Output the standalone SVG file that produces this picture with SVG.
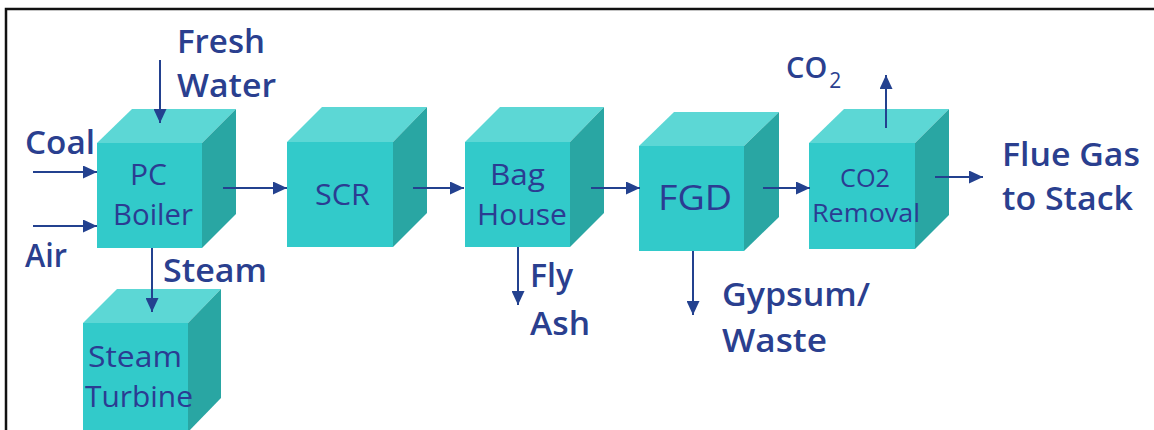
<svg xmlns="http://www.w3.org/2000/svg" width="1154" height="430" viewBox="0 0 1154 430">
<style>
.front{fill:#32CACA}
.top{fill:#5CD7D5}
.side{fill:#29A6A3}
.lbl{font-family:"Open Sans","Noto Sans",sans-serif;fill:#2A3F8F;font-weight:600;font-size:32px}
.in{font-family:"Open Sans","Noto Sans",sans-serif;fill:#2B3C92;font-weight:400;font-size:29px}
.conn{stroke:#23418F;stroke-width:2;fill:none;marker-end:url(#ah)}
</style>
<defs>
<marker id="ah" markerUnits="userSpaceOnUse" markerWidth="15" markerHeight="13" refX="14" refY="6.5" orient="auto">
<path d="M0,0 L14,6.5 L0,13 z" fill="#23418F"/>
</marker>
</defs>
<rect width="1154" height="430" fill="#fff"/>
<path d="M6,432 V9 H1156" fill="none" stroke="#111" stroke-width="2.5"/>

<g id="boiler">
<path class="top" d="M97,143 L132,109 L236,109 L202,143 z"/>
<path class="side" d="M202,143 L236,109 L236,214 L202,248 z"/>
<rect class="front" x="97" y="143" width="105" height="105"/>
<text class="in" x="130" y="185" textLength="37" lengthAdjust="spacingAndGlyphs">PC</text>
<text class="in" x="113" y="225" textLength="80" lengthAdjust="spacingAndGlyphs">Boiler</text>
</g>

<g id="scr">
<path class="top" d="M287,142 L322,107 L427,107 L393,142 z"/>
<path class="side" d="M393,142 L427,107 L427,213 L393,247 z"/>
<rect class="front" x="287" y="142" width="106" height="105"/>
<text class="in" x="315" y="205" textLength="55" lengthAdjust="spacingAndGlyphs">SCR</text>
</g>

<g id="baghouse">
<path class="top" d="M465,142 L500,107 L604,107 L570,142 z"/>
<path class="side" d="M570,142 L604,107 L604,213 L570,247 z"/>
<rect class="front" x="465" y="142" width="105" height="105"/>
<text class="in" x="490" y="185" textLength="55" lengthAdjust="spacingAndGlyphs">Bag</text>
<text class="in" x="477" y="225" textLength="90" lengthAdjust="spacingAndGlyphs">House</text>
</g>

<g id="fgd">
<path class="top" d="M639,146 L674,112 L779,112 L744,146 z"/>
<path class="side" d="M744,146 L779,112 L779,217 L744,251 z"/>
<rect class="front" x="639" y="146" width="105" height="105"/>
<text class="in" x="658" y="210" textLength="74" lengthAdjust="spacingAndGlyphs" style="font-size:35px;font-weight:500">FGD</text>
</g>

<g id="co2removal">
<path class="top" d="M809,143 L844,109 L949,109 L915,143 z"/>
<path class="side" d="M915,143 L949,109 L949,215 L915,249 z"/>
<rect class="front" x="809" y="143" width="106" height="106"/>
<text class="in" x="840" y="187" textLength="50" lengthAdjust="spacingAndGlyphs" style="font-size:26px">CO2</text>
<text class="in" x="812" y="222" textLength="108" lengthAdjust="spacingAndGlyphs" style="font-size:26px">Removal</text>
</g>

<g id="turbine">
<path class="top" d="M83,323 L117,289 L221,289 L188,323 z"/>
<path class="side" d="M188,323 L221,289 L221,398 L188,432 z"/>
<rect class="front" x="83" y="323" width="105" height="109"/>
<text class="in" x="88" y="367" textLength="94" lengthAdjust="spacingAndGlyphs">Steam</text>
<text class="in" x="85" y="407" textLength="108" lengthAdjust="spacingAndGlyphs">Turbine</text>
</g>

<g id="connectors">
<line class="conn" x1="33" y1="172" x2="97" y2="172"/>
<line class="conn" x1="33" y1="226" x2="97" y2="226"/>
<line class="conn" x1="160" y1="60" x2="160" y2="123"/>
<line class="conn" x1="152" y1="248" x2="152" y2="312"/>
<line class="conn" x1="223" y1="188" x2="287" y2="188"/>
<line class="conn" x1="413" y1="188" x2="464" y2="188"/>
<line class="conn" x1="591" y1="188" x2="640" y2="188"/>
<line class="conn" x1="763" y1="188" x2="810" y2="188"/>
<line class="conn" x1="935" y1="177" x2="983" y2="177"/>
<line class="conn" x1="886" y1="128" x2="886" y2="75"/>
<line class="conn" x1="518" y1="247" x2="518" y2="305"/>
<line class="conn" x1="693" y1="251" x2="693" y2="315"/>
</g>

<g id="labels">
<text class="lbl" x="177" y="53" textLength="88" lengthAdjust="spacingAndGlyphs">Fresh</text>
<text class="lbl" x="177" y="97" textLength="99" lengthAdjust="spacingAndGlyphs">Water</text>
<text class="lbl" x="25" y="154" textLength="70" lengthAdjust="spacingAndGlyphs">Coal</text>
<text class="lbl" x="25" y="267" textLength="42" lengthAdjust="spacingAndGlyphs">Air</text>
<text class="lbl" x="163" y="282" textLength="104" lengthAdjust="spacingAndGlyphs">Steam</text>
<text class="lbl" x="530" y="287" textLength="43" lengthAdjust="spacingAndGlyphs">Fly</text>
<text class="lbl" x="530" y="335" textLength="60" lengthAdjust="spacingAndGlyphs">Ash</text>
<text class="lbl" x="722" y="306" textLength="148" lengthAdjust="spacingAndGlyphs">Gypsum/</text>
<text class="lbl" x="722" y="352" textLength="105" lengthAdjust="spacingAndGlyphs">Waste</text>
<text class="lbl" x="786" y="78" style="font-size:29px">CO<tspan dx="2" dy="10" style="font-size:21px;font-weight:500">2</tspan></text>
<text class="lbl" x="1002" y="166" textLength="138" lengthAdjust="spacingAndGlyphs">Flue Gas</text>
<text class="lbl" x="1002" y="210" textLength="131" lengthAdjust="spacingAndGlyphs">to Stack</text>
</g>
</svg>
